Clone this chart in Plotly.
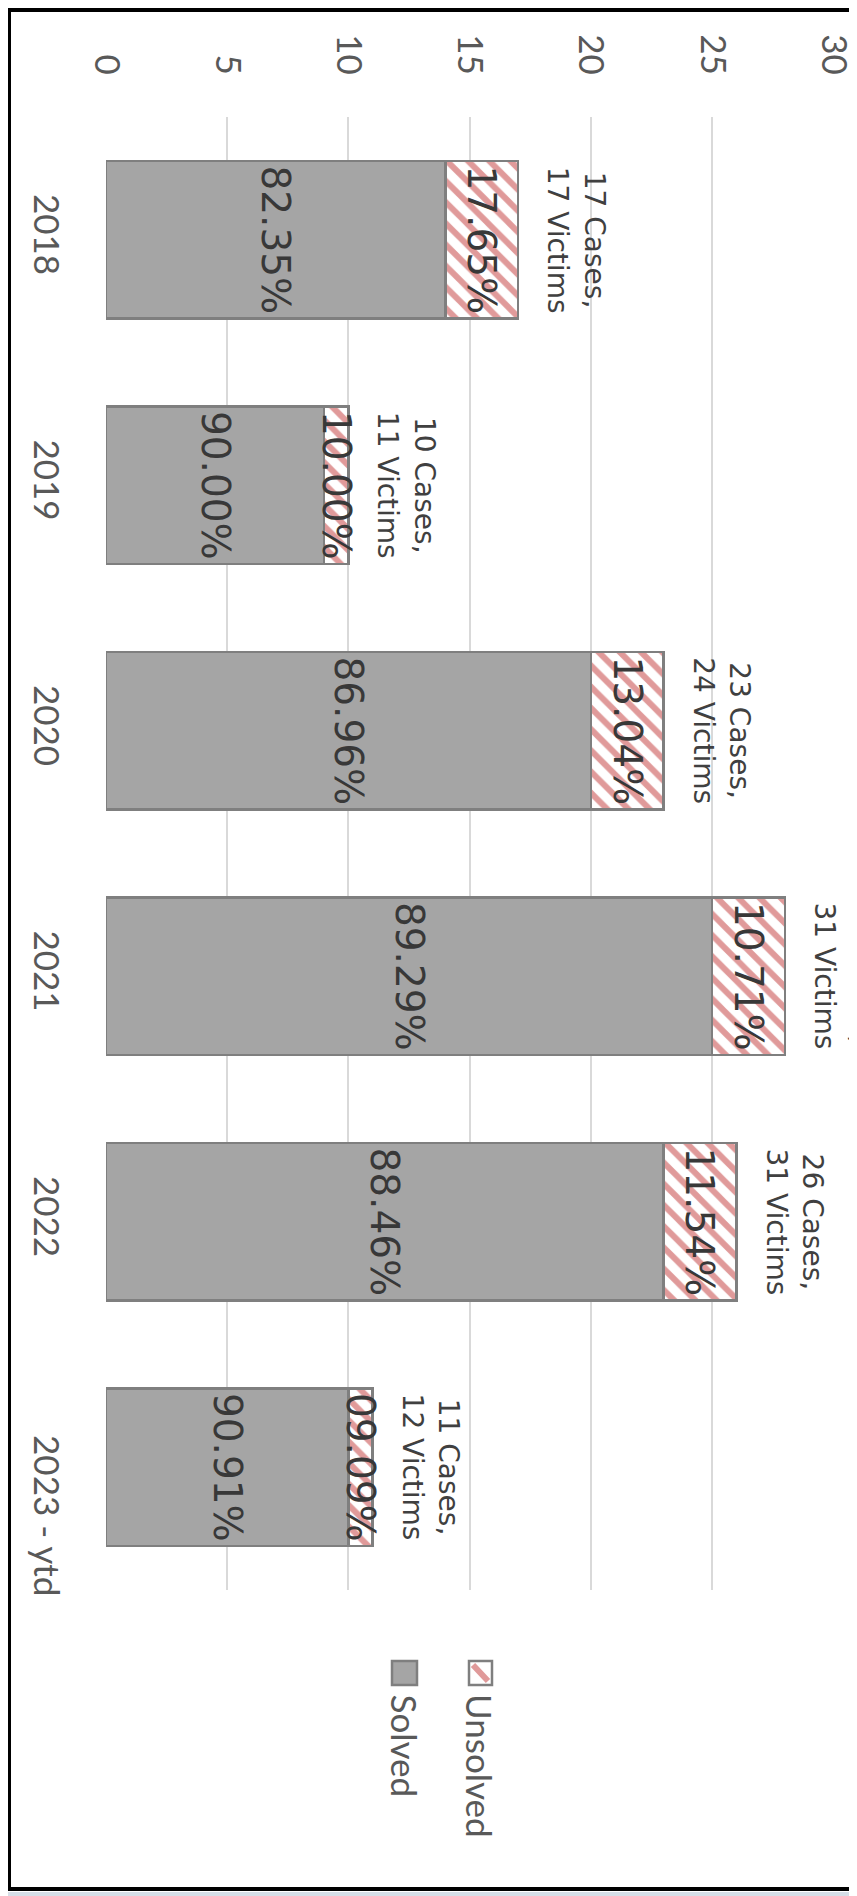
import plotly.graph_objects as go

# ---------------------------------------------------------------- data
YEARS = ["2018", "2019", "2020", "2021", "2022", "2023 - ytd"]
SOLVED = [14, 9, 20, 25, 23, 10]
UNSOLVED = [3, 1, 3, 3, 3, 1]
SOLVED_PCT = [82.35, 90.00, 86.96, 89.29, 88.46, 90.91]
UNSOLVED_PCT = [17.65, 10.00, 13.04, 10.71, 11.54, 9.09]
CASES = [17, 10, 23, 28, 26, 11]
VICTIMS = [17, 11, 24, 31, 31, 12]
X_TICKS = [0, 5, 10, 15, 20, 25, 30]
LEGEND = ["Unsolved", "Solved"]

# ---------------------------------------------------------------- page geometry
# the html body has an 8px margin, so figure pixels = page pixels - 8
W, H = 857, 1896
OFF = 8
L, T = 106 - OFF, 117 - OFF          # plot area top-left on the page: (106, 117)
R, B = W - (834 - OFF), H - (1590 - OFF)  # plot area bottom-right on the page: (834, 1590)
PW, PH = W - L - R, H - T - B

GREY = "#a5a5a5"
EDGE = "#7f7f7f"
PINK = "#e09a9a"
TXT = "#404040"
AX = "#595959"
SANS = "Lato"
LBL = "DejaVu Sans"


def px(x):  # page pixel -> paper x
    return (x - OFF - L) / PW


def py(y):  # page pixel -> paper y
    return (H - B - (y - OFF)) / PH


fig = go.Figure()
fig.add_bar(y=YEARS, x=SOLVED, orientation="h", name="Solved",
            marker=dict(color=GREY, line=dict(color=EDGE, width=2.5)),
            text=[f"{v:05.2f}%" for v in SOLVED_PCT])
fig.add_bar(y=YEARS, x=UNSOLVED, orientation="h", name="Unsolved",
            marker=dict(color="white", line=dict(color=EDGE, width=2.5),
                        pattern=dict(shape="\\", fgcolor=PINK, bgcolor="white",
                                     fgopacity=1, size=15, solidity=0.4)),
            text=[f"{v:05.2f}%" for v in UNSOLVED_PCT])
fig.update_traces(textposition="inside", insidetextanchor="middle", textangle=90,
                  constraintext="none", cliponaxis=False,
                  insidetextfont=dict(family=LBL, size=39, color="#383838"),
                  showlegend=False, hoverinfo="skip")

# case / victim labels beyond each bar (y given as category index)
for i, (c, v) in enumerate(zip(CASES, VICTIMS)):
    fig.add_annotation(x=c, y=i, xref="x", yref="y", text=f"{c} Cases,<br>{v} Victims",
                       textangle=90, showarrow=False, xanchor="center", yanchor="middle",
                       xshift=58, borderpad=0, font=dict(family=LBL, size=28, color=TXT))

# rotated legend (drawn by hand)
leg_x = [480, 405]
for name, cx in zip(LEGEND, leg_x):
    fig.add_annotation(x=px(cx), y=py(1693), xref="paper", yref="paper", text=name,
                       textangle=90, showarrow=False, xanchor="center", yanchor="top",
                       borderpad=0, font=dict(family=SANS, size=35, color=AX))

P = dict(xref="paper", yref="paper")
shapes = [
    # screenshot frame
    dict(type="rect", x0=px(-5), x1=px(W + 30), y0=py(1892), y1=py(H + 20),
         fillcolor="#d6dee7", line=dict(width=0), **P),
    dict(type="rect", x0=px(OFF + 1), x1=px(W + 30), y0=py(OFF + 2), y1=py(1889),
         fillcolor="rgba(0,0,0,0)", line=dict(color="black", width=4), **P),
    # legend swatches
    dict(type="rect", x0=px(392), x1=px(417), y0=py(1661), y1=py(1685),
         fillcolor=GREY, line=dict(color=EDGE, width=2.5), **P),
    dict(type="rect", x0=px(469), x1=px(492), y0=py(1661), y1=py(1685),
         fillcolor="white", line=dict(width=0), **P),
    dict(type="line", x0=px(473), x1=px(488), y0=py(1665), y1=py(1681),
         line=dict(color=PINK, width=6), **P),
    dict(type="rect", x0=px(469), x1=px(492), y0=py(1661), y1=py(1685),
         fillcolor="rgba(0,0,0,0)", line=dict(color=EDGE, width=2.5), **P),
]

fig.update_layout(
    width=W, height=H, barmode="stack", bargap=0.36,
    paper_bgcolor="white", plot_bgcolor="white",
    margin=dict(l=L, r=R, t=T, b=B, autoexpand=False),
    font=dict(family=SANS, color=AX),
    shapes=shapes,
    xaxis=dict(side="top", range=[0, 30.03], tickvals=X_TICKS, tickangle=90,
               showgrid=True, gridcolor="#d9d9d9", gridwidth=2, zeroline=False,
               showline=False, ticks="", ticklabelstandoff=36,
               tickfont=dict(family=SANS, size=35, color=AX)),
    yaxis=dict(type="category", categoryarray=YEARS, range=[5.5, -0.5],
               tickvals=YEARS,
               ticktext=YEARS[:-1] + ["\u00a0" * 12 + YEARS[-1]],
               tickangle=90, showgrid=False, zeroline=False, showline=False,
               ticks="", ticklabelstandoff=36,
               tickfont=dict(family=SANS, size=35, color=AX)),
)

fig.write_html("out.html")
